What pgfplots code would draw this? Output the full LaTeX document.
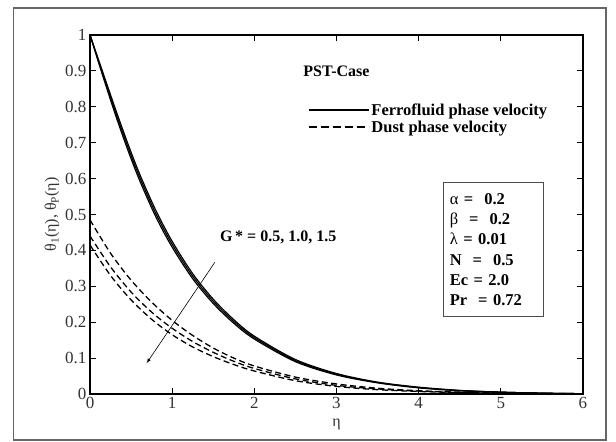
\documentclass[border=0pt]{standalone}
\usepackage{fontspec}
\setmainfont{Liberation Serif}
\usepackage{pgfplots}
\pgfplotsset{compat=1.18}
\usepackage{pgfplotstable}

% solid: ferrofluid phase, dashed: dust phase (G* = 0.5, 1.0, 1.5)
\pgfplotstableread{
eta   s1     s2     s3
0     1.000  1.000  1.000
0.15  0.900  0.895  0.890
0.3   0.800  0.792  0.784
0.45  0.704  0.695  0.686
0.6   0.615  0.606  0.597
0.8   0.512  0.503  0.494
1.0   0.425  0.417  0.409
1.25  0.335  0.328  0.321
1.5   0.264  0.258  0.252
1.75  0.207  0.202  0.197
2.0   0.161  0.157  0.153
2.5   0.096  0.093  0.090
3.0   0.057  0.055  0.053
3.5   0.033  0.032  0.031
4.0   0.019  0.018  0.017
4.5   0.010  0.0095 0.009
5.0   0.005  0.005  0.005
5.5   0.0022 0.0022 0.0022
6.0   0.0008 0.0008 0.0008
}\solid

\pgfplotstableread{
eta   d1     d2     d3
0     0.485  0.440  0.415
0.25  0.392  0.354  0.330
0.5   0.317  0.284  0.262
0.75  0.256  0.228  0.208
1.0   0.205  0.183  0.165
1.25  0.163  0.146  0.131
1.5   0.128  0.116  0.104
1.75  0.100  0.091  0.082
2.0   0.078  0.071  0.064
2.5   0.047  0.042  0.037
3.0   0.028  0.024  0.021
3.5   0.016  0.014  0.012
4.0   0.009  0.008  0.007
4.5   0.005  0.0045 0.004
5.0   0.003  0.0025 0.002
5.5   0.0015 0.001  0.001
6.0   0.0005 0.0004 0.0003
}\dust

\begin{document}
\begin{tikzpicture}
\begin{axis}[
    scale only axis,
    width=493pt, height=359pt,
    xmin=0, xmax=6, ymin=0, ymax=1,
    xtick={0,1,...,6},
    ytick={0,0.1,...,1},
    yticklabels={0,0.1,0.2,0.3,0.4,0.5,0.6,0.7,0.8,0.9,1},
    tick align=inside,
    major tick length=6pt,
    axis line style={line width=2.2pt},
    every tick/.style={black, line width=1pt},
    tick label style={font=\fontsize{17}{19}\selectfont, text=black!80},
    /pgf/number format/assume math mode=true,
    xlabel={η},
    ylabel={θ\textsubscript{1}(η), θ\textsubscript{P}(η)},
    label style={font=\fontsize{16}{18}\selectfont, text=black!80},
    xlabel style={at={(axis description cs:0.5,-0.086)}, anchor=center},
    ylabel style={at={(axis description cs:-0.077,0.5)}, anchor=center},
    clip=false,
    legend style={draw=none, fill=none, at={(axis cs:2.65,0.815)}, anchor=north west,
        font=\fontsize{16.5}{18.5}\selectfont\bfseries, inner sep=0pt, row sep=0pt},
    legend cell align=left,
    legend image code/.code={\draw[#1] (0pt,0pt) -- (60pt,0pt);},
]
\addlegendimage{black, line width=1.5pt}
\addlegendentry{Ferrofluid phase velocity}
\addlegendimage{black, line width=1.5pt, dash pattern=on 8pt off 4pt}
\addlegendentry{Dust phase velocity}

\addplot[black, line width=1.2pt, smooth, forget plot] table[x=eta, y=s1] {\solid};
\addplot[black, line width=1.2pt, smooth, forget plot] table[x=eta, y=s2] {\solid};
\addplot[black, line width=1.2pt, smooth, forget plot] table[x=eta, y=s3] {\solid};

\addplot[black, line width=1.3pt, smooth, dash pattern=on 6pt off 3.5pt, forget plot] table[x=eta, y=d1] {\dust};
\addplot[black, line width=1.3pt, smooth, dash pattern=on 6pt off 3.5pt, forget plot] table[x=eta, y=d2] {\dust};
\addplot[black, line width=1.3pt, smooth, dash pattern=on 6pt off 3.5pt, forget plot] table[x=eta, y=d3] {\dust};

\node[font=\fontsize{16}{18}\selectfont\bfseries] at (axis cs:3.0,0.9) {PST-Case};
\node[font=\fontsize{16}{18}\selectfont\bfseries] at (axis cs:2.29,0.437) {G\,* = 0.5, 1.0, 1.5};
\draw[-latex, line width=0.6pt] (axis cs:1.52,0.367) -- (axis cs:0.69,0.086);

\node[draw=black!70, line width=0.9pt, anchor=north west, minimum width=100pt,
      minimum height=134pt, text width=88pt, align=left, inner sep=5pt,
      font=\fontsize{16.5}{20.2}\selectfont\bfseries]
  at (axis cs:4.3,0.59)
  {\textmd{α} =\ \ 0.2\\ \textmd{β}\ \ =\ \ 0.2\\ \textmd{λ} = 0.01\\ N\ \ =\ \ 0.5\\ Ec = 2.0\\ Pr\ \ = 0.72};

% outer frame and page bounds
\draw[black!60, line width=1.2pt] (rel axis cs:-0.156,-0.128) rectangle (rel axis cs:1.0467,1.0752);
\path (rel axis cs:-0.1826,-0.1337) rectangle (rel axis cs:1.067,1.0975);
\end{axis}
\end{tikzpicture}
\end{document}
